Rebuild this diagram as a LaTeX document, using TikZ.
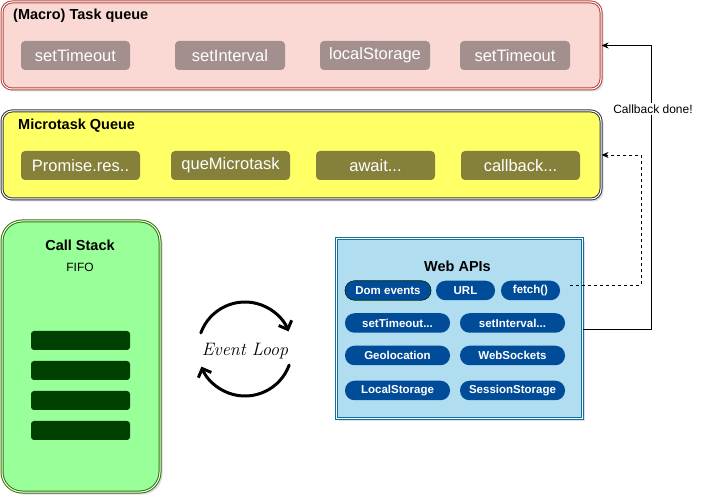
\documentclass[tikz,border=0pt]{standalone}
\usepackage{fontspec}
\setmainfont{Liberation Sans}
\newfontfamily\loopfont{Latin Modern Roman}
\usetikzlibrary{arrows.meta,shadows,calc}
\definecolor{taskfill}{HTML}{FAD9D5}
\definecolor{taskdraw}{HTML}{B5443A}
\definecolor{taskbox}{HTML}{A38F8E}
\definecolor{microfill}{HTML}{FFFF66}
\definecolor{microdraw}{HTML}{36393D}
\definecolor{microbox}{HTML}{85813A}
\definecolor{stackfill}{HTML}{99FF99}
\definecolor{stackdraw}{HTML}{2D7600}
\definecolor{stackbar}{HTML}{004000}
\definecolor{webfill}{HTML}{B1DDF0}
\definecolor{webdraw}{HTML}{10739E}
\definecolor{pill}{HTML}{004C99}
\definecolor{shadowc}{HTML}{9AA3C0}
\begin{document}
\begin{tikzpicture}[x=1pt,y=-1pt,
  container/.style={draw, double, double distance=1pt, line width=1pt,
    drop shadow={shadow xshift=2.5pt, shadow yshift=-2.5pt, fill=shadowc, opacity=0.35},
    inner sep=0pt},
  title/.style={font=\fontsize{14.5}{17}\selectfont\bfseries, inner sep=0pt},
  qbox/.style={rounded corners=4pt, minimum height=29pt, inner sep=0pt,
    text=white, font=\fontsize{16.5}{19}\selectfont},
  pillbox/.style={rounded corners=9.5pt, minimum height=19.5pt, inner sep=0pt,
    fill=pill, text=white, font=\fontsize{11.5}{13}\selectfont\bfseries},
  bar/.style={fill=stackbar, rounded corners=3pt, minimum width=99pt, minimum height=19pt, inner sep=0pt},
  loopline/.style={line width=3pt, line cap=round, -{Straight Barb[length=7pt,width=14pt,line width=3pt]}},
  conn/.style={line width=0.8pt, -{Stealth[length=7pt,width=6pt]}}
]
\useasboundingbox (0,0) rectangle (707,502);

% Task queue
\node[container, draw=taskdraw, fill=taskfill, rounded corners=10pt,
  minimum width=599pt, minimum height=87pt] (taskq) at (301.5,45.5) {};
\node[title, anchor=west] (taskt) at (13,16) {(Macro) Task queue};
\node[qbox, fill=taskbox, minimum width=109pt] (t1) at (75.5,55.5) {setTimeout};
\node[qbox, fill=taskbox, minimum width=110pt] (t2) at (230,55.5) {setInterval};
\node[qbox, fill=taskbox, minimum width=110pt] (t3) at (375,55.5) {localStorage};
\node[qbox, fill=taskbox, minimum width=110pt] (t4) at (515,55.5) {setTimeout};

% Microtask queue
\node[container, draw=microdraw, fill=microfill, rounded corners=10pt,
  minimum width=599pt, minimum height=88pt] (microq) at (301.5,155) {};
\node[title, anchor=west] (microt) at (18,126) {Microtask Queue};
\node[qbox, fill=microbox, minimum width=119pt] (m1) at (80.5,165.5) {Promise.res..};
\node[qbox, fill=microbox, minimum width=119pt] (m2) at (230.5,165.5) {queMicrotask};
\node[qbox, fill=microbox, minimum width=119pt] (m3) at (375.5,165.5) {await...};
\node[qbox, fill=microbox, minimum width=119pt] (m4) at (520.5,165.5) {callback...};

% Call stack
\node[container, draw=stackdraw, fill=stackfill, rounded corners=20pt,
  minimum width=158pt, minimum height=271pt] (stack) at (81,356.5) {};
\node[title] (stackt) at (80,245) {Call Stack};
\node[inner sep=0pt, font=\fontsize{12}{14}\selectfont] (fifo) at (80,267) {FIFO};
\node[bar] (b1) at (80.5,340.5) {};
\node[bar] (b2) at (80.5,370.5) {};
\node[bar] (b3) at (80.5,400.5) {};
\node[bar] (b4) at (80.5,430.5) {};

% Event loop
\coordinate (lc) at (245,349);
\node[inner sep=0pt, font=\loopfont\itshape\fontsize{18}{21}\selectfont] (loopt) at (245,351) {Event Loop};
\draw[loopline] ($(lc)+(200:47)$) arc[start angle=200, end angle=338, radius=47];
\draw[loopline] ($(lc)+(20:47)$) arc[start angle=20, end angle=158, radius=47];

% Web APIs
\node[container, draw=webdraw, fill=webfill, rounded corners=0pt,
  minimum width=246pt, minimum height=180pt] (webapis) at (459,329) {};
\node[title] (webt) at (457.5,266) {Web APIs};
\node[pillbox, minimum width=86pt, draw=black!60!green!40!black, line width=0.6pt] (p1) at (388,290.5) {Dom events};
\node[pillbox, minimum width=59pt] (p2) at (465.5,290.5) {URL};
\node[pillbox, minimum width=59pt] (fetch) at (530.5,290.5) {fetch()};
\node[pillbox, minimum width=105pt] (p4) at (397.5,323) {setTimeout...};
\node[pillbox, minimum width=105pt] (p5) at (512.5,323) {setInterval...};
\node[pillbox, minimum width=105pt] (p6) at (397.5,355.5) {Geolocation};
\node[pillbox, minimum width=105pt] (p7) at (512.5,355.5) {WebSockets};
\node[pillbox, minimum width=105pt] (p8) at (397.5,390.5) {LocalStorage};
\node[pillbox, minimum width=105pt] (p9) at (512.5,390.5) {SessionStorage};

% Connectors
\coordinate (solidx) at (651,0);
\coordinate (dashx) at (641,0);
\coordinate (fetchout) at ([shift={(10,-5)}]fetch.east);
\draw[conn] (webapis.east) -- (webapis.east -| solidx) -- (solidx |- taskq.east) -- (taskq.east);
\draw[conn, dashed] (fetchout) -- (fetchout -| dashx) -- (dashx |- microq.east) -- (microq.east);
\node[fill=white, inner sep=1.5pt, font=\fontsize{12}{14}\selectfont] (cbl) at (653,109) {Callback done!};
\end{tikzpicture}
\end{document}
